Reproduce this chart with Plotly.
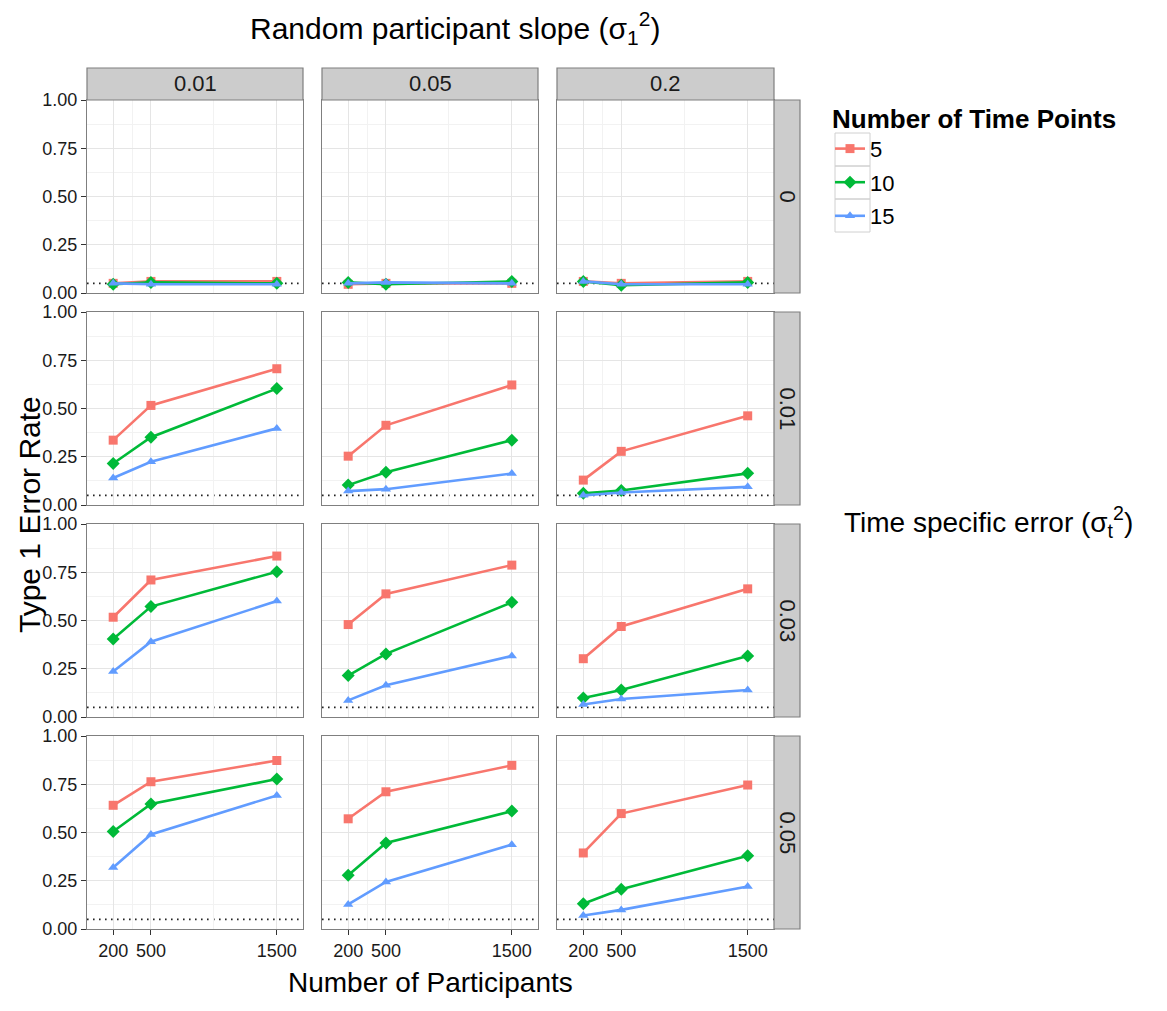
import plotly.graph_objects as go

# ---------------- data ----------------
participants = [200, 500, 1500]
slope_levels = ["0.01", "0.05", "0.2"]          # columns (sigma_1^2)
error_levels = ["0", "0.01", "0.03", "0.05"]    # rows (sigma_t^2)
time_points = ["5", "10", "15"]

# values[row][col] -> list over participants
tp5 = [
    [[0.05, 0.06, 0.06], [0.045, 0.05, 0.05], [0.06, 0.05, 0.06]],
    [[0.336, 0.516, 0.706], [0.253, 0.413, 0.622], [0.129, 0.278, 0.462]],
    [[0.517, 0.710, 0.834], [0.479, 0.638, 0.787], [0.302, 0.469, 0.664]],
    [[0.641, 0.763, 0.873], [0.571, 0.711, 0.848], [0.394, 0.598, 0.746]],
]
tp10 = [
    [[0.045, 0.055, 0.05], [0.055, 0.045, 0.06], [0.06, 0.04, 0.055]],
    [[0.215, 0.351, 0.603], [0.103, 0.170, 0.336], [0.061, 0.075, 0.164]],
    [[0.404, 0.572, 0.753], [0.215, 0.327, 0.594], [0.098, 0.140, 0.316]],
    [[0.505, 0.648, 0.777], [0.279, 0.446, 0.611], [0.131, 0.206, 0.380]],
]
tp15 = [
    [[0.05, 0.045, 0.045], [0.05, 0.055, 0.05], [0.06, 0.045, 0.045]],
    [[0.140, 0.224, 0.397], [0.072, 0.082, 0.163], [0.050, 0.065, 0.094]],
    [[0.236, 0.390, 0.601], [0.086, 0.164, 0.316], [0.065, 0.093, 0.140]],
    [[0.319, 0.490, 0.692], [0.127, 0.244, 0.437], [0.070, 0.099, 0.220]],
]
nominal_alpha = 0.05
x_ticks = [200, 500, 1500]
x_minor = [350, 1000]
y_ticks = [0.0, 0.25, 0.5, 0.75, 1.0]
y_minor = [0.125, 0.375, 0.625, 0.875]

series = [tp5, tp10, tp15]
colors = ["#F8766D", "#00BA38", "#619CFF"]
symbols = ["square", "diamond", "triangle-up"]

# ---------------- layout geometry (pixels) ----------------
W, H = 1167, 1011
cols_px = [(87, 303), (322, 538), (557, 774)]
rows_px = [(100, 293), (312, 505), (524, 717), (736, 929)]
strip_top = (68, 100)
strip_right = (774, 800)

def fx(px):
    return px / W

def fy(py):
    return 1 - py / H

FONT = "Liberation Sans, Arial, sans-serif"
BORDER = "#7F7F7F"
STRIP_FILL = "#CCCCCC"
TXT = "#1a1a1a"

fig = go.Figure()
shapes = []
annotations = []

for r in range(4):
    for c in range(3):
        idx = r * 3 + c + 1
        xa = "x" if idx == 1 else f"x{idx}"
        ya = "y" if idx == 1 else f"y{idx}"
        for s in range(3):
            fig.add_trace(go.Scatter(
                x=participants, y=series[s][r][c],
                mode="lines+markers",
                line=dict(color=colors[s], width=2.6),
                marker=dict(symbol=symbols[s], size=9 if s != 1 else 10, color=colors[s]),
                name=time_points[s], legendgroup=time_points[s],
                showlegend=(idx == 1),
                xaxis=xa, yaxis=ya,
            ))
        xkey = "xaxis" if idx == 1 else f"xaxis{idx}"
        ykey = "yaxis" if idx == 1 else f"yaxis{idx}"
        bottom = (r == 3)
        left = (c == 0)
        fig.layout[xkey] = dict(
            domain=[fx(cols_px[c][0]), fx(cols_px[c][1])],
            anchor=ya, range=[-8, 1708],
            tickmode="array", tickvals=x_ticks,
            ticktext=[str(v) for v in x_ticks],
            showticklabels=bottom, ticks="outside" if bottom else "",
            ticklen=5, tickwidth=1.2, tickcolor="#333333",
            showgrid=True, gridcolor="#E5E5E5", gridwidth=1,
            minor=dict(tickmode="array", tickvals=x_minor, showgrid=True,
                       gridcolor="#F2F2F2", gridwidth=1, ticks=""),
            showline=True, mirror=True, linecolor=BORDER, linewidth=1.2,
            zeroline=False,
            tickfont=dict(family=FONT, size=18, color=TXT),
        )
        fig.layout[ykey] = dict(
            domain=[fy(rows_px[r][1]), fy(rows_px[r][0])],
            anchor=xa, range=[0, 1],
            tickmode="array", tickvals=y_ticks,
            ticktext=[f"{v:.2f}" for v in y_ticks],
            showticklabels=left, ticks="outside" if left else "",
            ticklen=5, tickwidth=1.2, tickcolor="#333333",
            showgrid=True, gridcolor="#E5E5E5", gridwidth=1,
            minor=dict(tickmode="array", tickvals=y_minor, showgrid=True,
                       gridcolor="#F2F2F2", gridwidth=1, ticks=""),
            showline=True, mirror=True, linecolor=BORDER, linewidth=1.2,
            zeroline=False,
            tickfont=dict(family=FONT, size=18, color=TXT),
        )
        # nominal alpha reference line
        shapes.append(dict(
            type="line", xref=f"{xa} domain", yref=ya,
            x0=0, x1=1, y0=nominal_alpha, y1=nominal_alpha,
            line=dict(color="#222222", width=1.6, dash="1.6px,4.4px"), layer="below",
        ))

# top strips
for c, lab in enumerate(slope_levels):
    shapes.append(dict(type="rect", xref="paper", yref="paper",
                       x0=fx(cols_px[c][0]), x1=fx(cols_px[c][1]),
                       y0=fy(strip_top[1]), y1=fy(strip_top[0]),
                       fillcolor=STRIP_FILL, line=dict(color=BORDER, width=1.2)))
    annotations.append(dict(xref="paper", yref="paper",
                            x=fx((cols_px[c][0] + cols_px[c][1]) / 2),
                            y=fy((strip_top[0] + strip_top[1]) / 2),
                            text=lab, showarrow=False,
                            font=dict(family=FONT, size=22, color=TXT),
                            xanchor="center", yanchor="middle"))
# right strips
for r, lab in enumerate(error_levels):
    shapes.append(dict(type="rect", xref="paper", yref="paper",
                       x0=fx(strip_right[0]), x1=fx(strip_right[1]),
                       y0=fy(rows_px[r][1]), y1=fy(rows_px[r][0]),
                       fillcolor=STRIP_FILL, line=dict(color=BORDER, width=1.2)))
    annotations.append(dict(xref="paper", yref="paper",
                            x=fx((strip_right[0] + strip_right[1]) / 2),
                            y=fy((rows_px[r][0] + rows_px[r][1]) / 2),
                            text=lab, showarrow=False, textangle=90,
                            font=dict(family=FONT, size=22, color=TXT),
                            xanchor="center", yanchor="middle"))

# legend key boxes (ggplot-style)
key_x = (835, 870)
key_top, key_h = 133, 33
for k in range(3):
    shapes.append(dict(type="rect", xref="paper", yref="paper",
                       x0=fx(key_x[0]), x1=fx(key_x[1]),
                       y0=fy(key_top + (k + 1) * key_h), y1=fy(key_top + k * key_h),
                       fillcolor="rgba(0,0,0,0)", line=dict(color="#D0D0D0", width=1),
                       layer="below"))

# titles
annotations += [
    dict(xref="paper", yref="paper", x=fx(455), y=fy(28),
         text="Random participant slope (σ<sub>1</sub><sup>2</sup>)",
         showarrow=False, font=dict(family=FONT, size=30, color="#000000"),
         xanchor="center", yanchor="middle"),
    dict(xref="paper", yref="paper", x=fx(29), y=fy(515),
         text="Type 1 Error Rate", textangle=-90,
         showarrow=False, font=dict(family=FONT, size=30, color="#000000"),
         xanchor="center", yanchor="middle"),
    dict(xref="paper", yref="paper", x=fx(430), y=fy(982),
         text="Number of Participants",
         showarrow=False, font=dict(family=FONT, size=28, color="#000000"),
         xanchor="center", yanchor="middle"),
    dict(xref="paper", yref="paper", x=fx(842), y=fy(522),
         text="Time specific error (σ<sub>t</sub><sup>2</sup>)",
         showarrow=False, font=dict(family=FONT, size=28, color="#000000"),
         xanchor="left", yanchor="middle"),
]

fig.update_layout(
    width=W, height=H,
    margin=dict(l=0, r=0, t=0, b=0, autoexpand=False),
    paper_bgcolor="white", plot_bgcolor="white",
    shapes=shapes, annotations=annotations,
    showlegend=True,
    legend=dict(
        x=fx(830), y=fy(94), xanchor="left", yanchor="top",
        title=dict(text="<b>Number of Time Points</b>",
                   font=dict(family=FONT, size=26, color="#000000")),
        font=dict(family=FONT, size=22, color="#000000"),
        bgcolor="rgba(0,0,0,0)", tracegroupgap=2, itemwidth=30,
    ),
)

fig.write_html("out.html")
